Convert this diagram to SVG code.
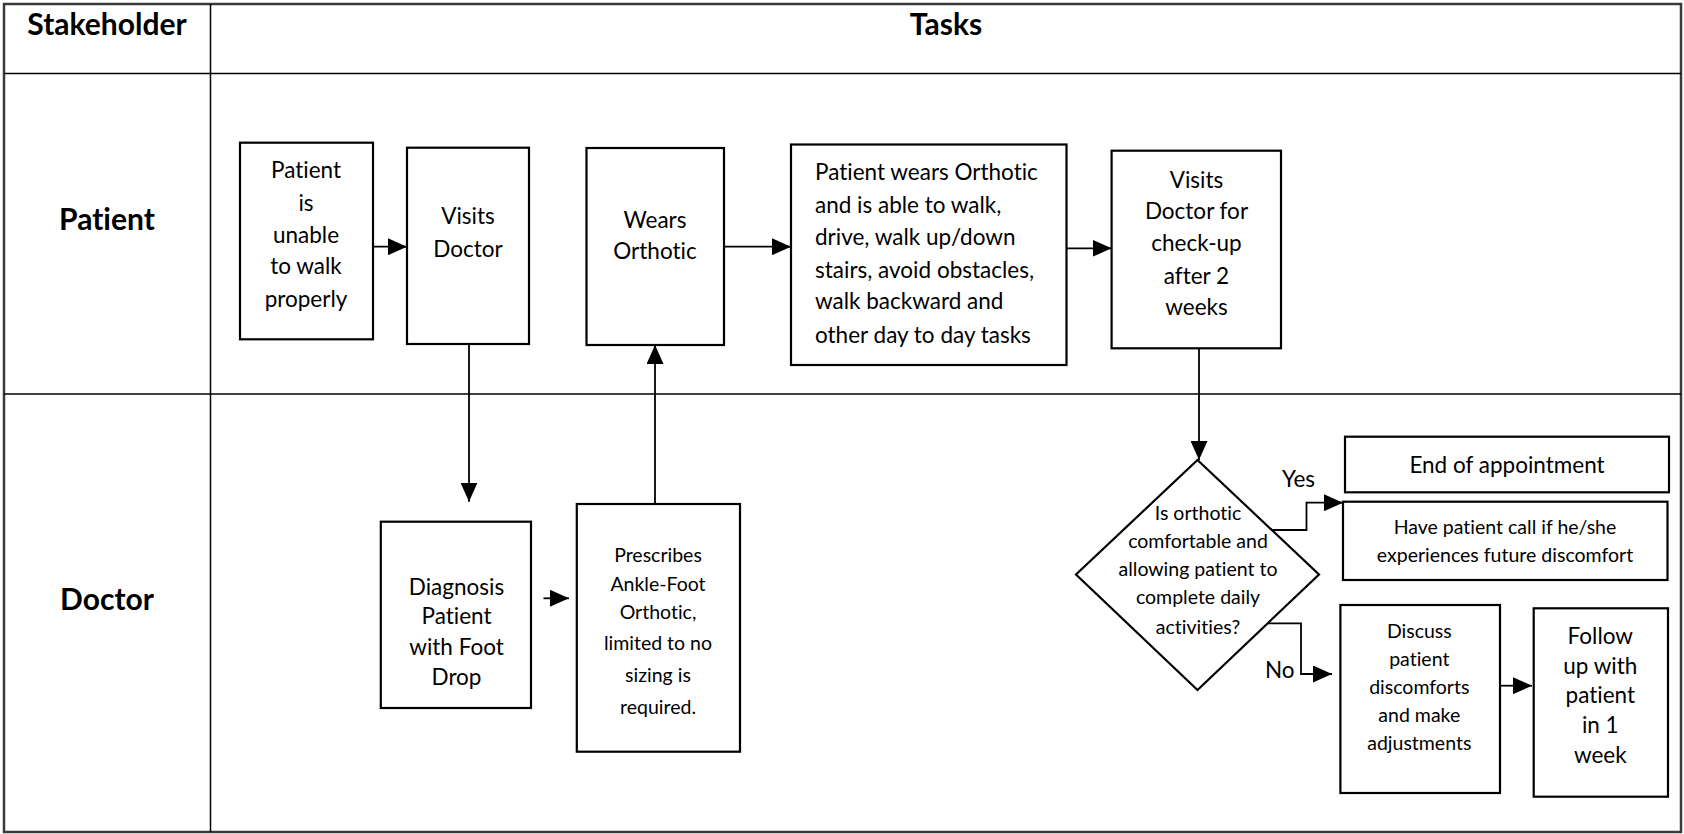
<svg xmlns="http://www.w3.org/2000/svg" width="1684" height="834" viewBox="0 0 1684 834">
<defs>
<marker id="ah" markerUnits="userSpaceOnUse" markerWidth="19" markerHeight="17" refX="19" refY="8.5" orient="auto">
<path d="M0,0 L19,8.5 L0,17 z" fill="#000"/>
</marker>
<style>
.lane{fill:none;stroke:#000;stroke-width:1.5}
.frame{fill:none;stroke:#3a3a3a;stroke-width:2.5}
.box{fill:#fff;stroke:#000;stroke-width:2.2}
.conn{fill:none;stroke:#000;stroke-width:1.8;marker-end:url(#ah)}
.t{font-family:Lato,"Liberation Sans",sans-serif;font-size:22.5px;fill:#000;text-anchor:middle;font-variant-ligatures:none}
.s{font-size:19.5px}
.l{text-anchor:start}
.h{font-family:Lato,"Liberation Sans",sans-serif;font-weight:bold;font-size:30px;fill:#000;text-anchor:middle;font-variant-ligatures:none}
</style>
</defs>
<rect width="1684" height="834" fill="#fff"/>
<g id="table">
<rect class="frame" x="4" y="4" width="1677" height="828"/>
<line class="lane" x1="4" y1="73.5" x2="1681" y2="73.5" stroke-width="2"/>
<line class="lane" x1="4" y1="394" x2="1681" y2="394"/>
<line class="lane" x1="210.5" y1="4" x2="210.5" y2="832"/>
<text class="h" x="107" y="35">Stakeholder</text>
<text class="h" x="946" y="35">Tasks</text>
<text class="h" x="107" y="230">Patient</text>
<text class="h" x="107" y="610">Doctor</text>
</g>
<g id="connectors">
<line class="conn" x1="373" y1="246.7" x2="407" y2="246.7"/>
<line class="conn" x1="469" y1="344" x2="469" y2="501.7"/>
<line class="conn" x1="543.5" y1="598.3" x2="569" y2="598.3"/>
<line class="conn" x1="655" y1="504" x2="655" y2="345"/>
<line class="conn" x1="724" y1="246.7" x2="791" y2="246.7"/>
<line class="conn" x1="1066.5" y1="248.3" x2="1111.6" y2="248.3"/>
<line class="conn" x1="1199" y1="348.3" x2="1199" y2="460"/>
<polyline class="conn" points="1271.6,530 1306.5,530 1306.5,502.7 1343,502.7"/>
<polyline class="conn" points="1268,623.3 1301,623.3 1301,674 1332,674"/>
<line class="conn" x1="1500" y1="685.7" x2="1532" y2="685.7"/>
<text class="t" x="1298.5" y="486.5">Yes</text>
<text class="t" x="1279.7" y="678">No</text>
</g>
<g id="n1">
<rect class="box" x="240" y="142.7" width="133" height="196.6"/>
<text class="t" x="306" y="178">Patient</text>
<text class="t" x="306" y="210.5">is</text>
<text class="t" x="306" y="243">unable</text>
<text class="t" x="306" y="274">to walk</text>
<text class="t" x="306" y="307">properly</text>
</g>
<g id="n2">
<rect class="box" x="407" y="147.7" width="122" height="196.3"/>
<text class="t" x="468" y="224">Visits</text>
<text class="t" x="468" y="256.5">Doctor</text>
</g>
<g id="n3">
<rect class="box" x="586.5" y="148" width="137.5" height="197"/>
<text class="t" x="655" y="228">Wears</text>
<text class="t" x="655" y="259">Orthotic</text>
</g>
<g id="n4">
<rect class="box" x="791" y="144.5" width="275.5" height="220.5"/>
<text class="t l" x="815" y="179.5">Patient wears Orthotic</text>
<text class="t l" x="815" y="213">and is able to walk,</text>
<text class="t l" x="815" y="245">drive, walk up/down</text>
<text class="t l" x="815" y="277.5">stairs, avoid obstacles,</text>
<text class="t l" x="815" y="309">walk backward and</text>
<text class="t l" x="815" y="342.5">other day to day tasks</text>
</g>
<g id="n5">
<rect class="box" x="1111.6" y="150.7" width="169.4" height="197.6"/>
<text class="t" x="1196.5" y="187.5">Visits</text>
<text class="t" x="1196.5" y="219">Doctor for</text>
<text class="t" x="1196.5" y="250.5">check-up</text>
<text class="t" x="1196.5" y="283.5">after 2</text>
<text class="t" x="1196.5" y="314.5">weeks</text>
</g>
<g id="n6">
<rect class="box" x="380.8" y="521.7" width="150.2" height="186.3"/>
<text class="t" x="456.5" y="594.5">Diagnosis</text>
<text class="t" x="456.5" y="624">Patient</text>
<text class="t" x="456.5" y="654.5">with Foot</text>
<text class="t" x="456.5" y="684.5">Drop</text>
</g>
<g id="n7">
<rect class="box" x="576.8" y="504" width="163.2" height="247.7"/>
<text class="t s" x="658" y="562">Prescribes</text>
<text class="t s" x="658" y="590.5">Ankle-Foot</text>
<text class="t s" x="658" y="619">Orthotic,</text>
<text class="t s" x="658" y="650">limited to no</text>
<text class="t s" x="658" y="682">sizing is</text>
<text class="t s" x="658" y="713.5">required.</text>
</g>
<g id="n8">
<polygon class="box" points="1197.5,460 1319,574.5 1197.5,690 1076,574.5"/>
<text class="t s" x="1198" y="519.5">Is orthotic</text>
<text class="t s" x="1198" y="547.5">comfortable and</text>
<text class="t s" x="1198" y="576">allowing patient to</text>
<text class="t s" x="1198" y="604">complete daily</text>
<text class="t s" x="1198" y="633.5">activities?</text>
</g>
<g id="n9">
<rect class="box" x="1345" y="436.7" width="324" height="55.6"/>
<text class="t" x="1507" y="472.5">End of appointment</text>
</g>
<g id="n10">
<rect class="box" x="1343" y="501.7" width="324.5" height="78.3"/>
<text class="t s" x="1505" y="533.5">Have patient call if he/she</text>
<text class="t s" x="1505" y="562">experiences future discomfort</text>
</g>
<g id="n11">
<rect class="box" x="1340.4" y="605" width="159.6" height="188"/>
<text class="t s" x="1419.3" y="638">Discuss</text>
<text class="t s" x="1419.3" y="666">patient</text>
<text class="t s" x="1419.3" y="693.5">discomforts</text>
<text class="t s" x="1419.3" y="722">and make</text>
<text class="t s" x="1419.3" y="750">adjustments</text>
</g>
<g id="n12">
<rect class="box" x="1533.7" y="608.3" width="134.3" height="188.4"/>
<text class="t" x="1600.3" y="643.5">Follow</text>
<text class="t" x="1600.3" y="673.5">up with</text>
<text class="t" x="1600.3" y="703">patient</text>
<text class="t" x="1600.3" y="732.5">in 1</text>
<text class="t" x="1600.3" y="762.5">week</text>
</g>
</svg>
